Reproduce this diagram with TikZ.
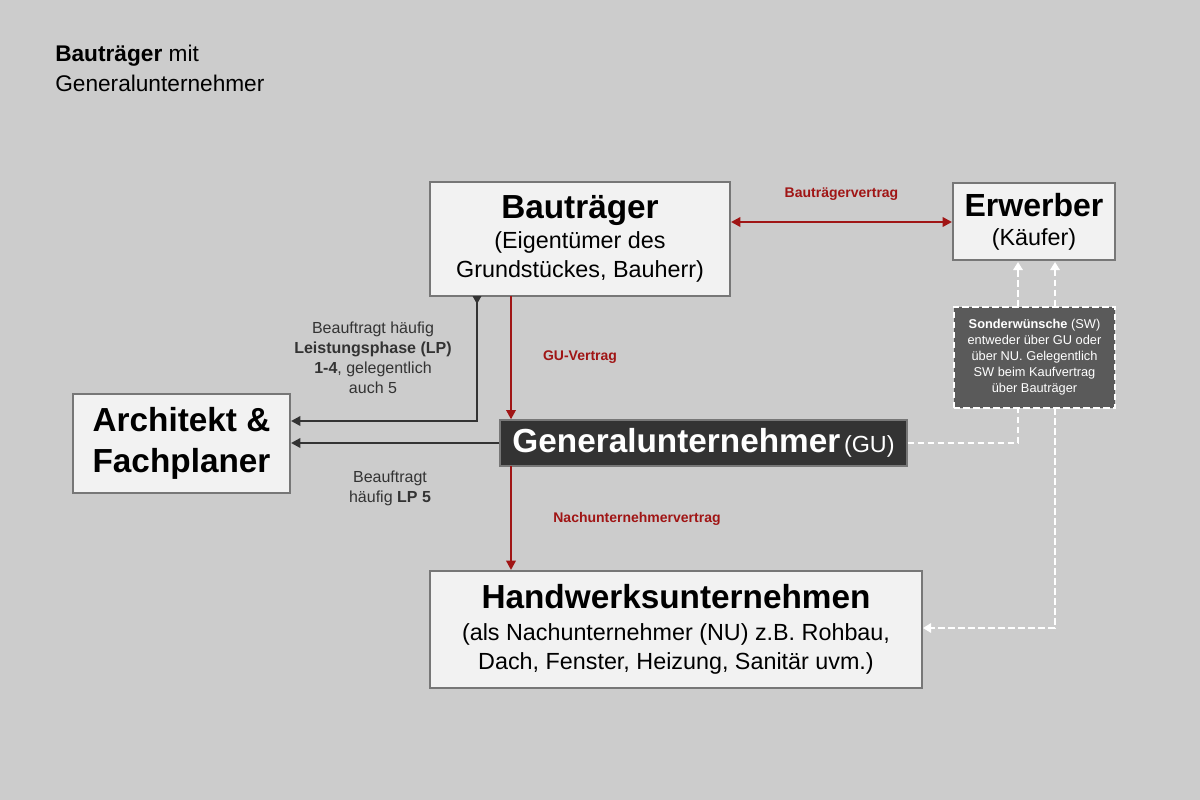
\documentclass[tikz,border=0pt]{standalone}
\usepackage{fontspec}
\setmainfont{Liberation Sans}
\usetikzlibrary{arrows.meta,calc}
\definecolor{bg}{HTML}{CCCCCC}
\definecolor{boxf}{HTML}{F2F2F2}
\definecolor{boxd}{HTML}{777777}
\definecolor{red1}{HTML}{A01515}
\definecolor{dark}{HTML}{333333}
\definecolor{swf}{HTML}{5A5A5A}
\newcommand{\fs}[1]{\pgfmathsetlengthmacro\fsbase{1.25*#1}\fontsize{#1}{\fsbase}\selectfont}
\tikzset{
  box/.style={draw=boxd,line width=1.5pt,fill=boxf,inner sep=0pt,align=center},
  redarr/.style={red1,line width=2pt,-{Triangle[length=7pt,width=7pt]}},
  blkarr/.style={dark,line width=2pt,-{Triangle[length=7pt,width=7pt]}},
  wdash/.style={white,line width=1.5pt,dash pattern=on 5pt off 2.5pt},
  lbl/.style={align=center,text=dark,font=\fs{12}},
  rlbl/.style={text=red1,font=\fs{10.5}\bfseries},
}
\begin{document}
\begin{tikzpicture}[x=0.75pt,y=-0.75pt]
\fill[bg] (0,0) rectangle (1200,800);
\useasboundingbox (0,0) rectangle (1200,800);
\node[anchor=north west,align=left,font=\fs{17},inner sep=0pt] (title) at (55,45) {\textbf{Bauträger} mit\\[1pt]Generalunternehmer};
\node[box,font=\fs{17.5},minimum width=300*0.75pt,minimum height=114*0.75pt] (bt) at (580,239) {{\fs{25}\bfseries Bauträger}\\(Eigentümer des\\Grundstückes, Bauherr)};
\node[box,font=\fs{17.5},minimum width=162*0.75pt,minimum height=77*0.75pt] (er) at (1034,221.5) {{\fs{24}\bfseries Erwerber}\\(Käufer)};
\node[box,font=\fs{25}\bfseries,minimum width=217*0.75pt,minimum height=99*0.75pt] (ar) at (181.5,443.5) {Architekt \&\\Fachplaner};
\node[draw=boxd,line width=1pt,fill=dark,text=white,minimum width=407*0.75pt,minimum height=46*0.75pt,inner sep=0pt] (gu) at (703.5,443) {{\fs{25}\bfseries Generalunternehmer} {\fs{17.5}(GU)}};
\node[box,font=\fs{17.5},minimum width=492*0.75pt,minimum height=117*0.75pt] (hw) at (676,629.5) {{\fs{25}\bfseries Handwerksunternehmen}\\[2pt](als Nachunternehmer (NU) z.B. Rohbau,\\Dach, Fenster, Heizung, Sanitär uvm.)};
\node[fill=swf,text=white,minimum width=161*0.75pt,minimum height=101*0.75pt,inner sep=0pt,align=center,font=\fs{9.6}] (sw) at (1034.5,357.5) {\textbf{Sonderwünsche} (SW)\\entweder über GU oder\\über NU. Gelegentlich\\SW beim Kaufvertrag\\über Bauträger};
\draw[wdash] (sw.south west) rectangle (sw.north east);
% red
\draw[red1,line width=2pt,{Triangle[length=7pt,width=7pt]}-{Triangle[length=7pt,width=7pt]}] (bt.east|-0,222) -- (er.west|-0,222) node[midway,above=12pt,rlbl] (l1) {Bauträgervertrag};
\draw[redarr] (511,296) coordinate (a1) -- (a1|-gu.north) ;
\node[rlbl] (l2) at (580,357) {GU-Vertrag};
\draw[redarr] (511,466) coordinate (a2) -- (a2|-hw.north);
\node[rlbl] (l3) at (637,519) {Nachunternehmervertrag};
% black
\coordinate (b1) at (477,296);
\fill[dark] ($(b1)+(-4.5,0)$) -- ($(b1)+(4.5,0)$) -- ($(b1)+(0,8)$) -- cycle;
\draw[blkarr] (b1) -- (477,421) -- (ar.east|-0,421);
\draw[blkarr] (gu.west) -- (ar.east|-gu.west);
\node[lbl] (l4) at (373,358) {Beauftragt häufig\\\textbf{Leistungsphase (LP)}\\\textbf{1-4}, gelegentlich\\auch 5};
\node[lbl] (l5) at (390,488) {Beauftragt\\häufig \textbf{LP 5}};
% white dashed
\draw[wdash] (gu.east) -- (1018,443) -- (1018,408);
\draw[wdash,-{Triangle[length=6pt,width=7pt]}] (1018,307) -- (1018,262);
\draw[wdash,{Triangle[length=6pt,width=7pt]}-] (1055,262) -- (1055,307);
\draw[wdash,-{Triangle[length=6pt,width=7pt]}] (1055,408) -- (1055,628) -- (hw.east|-0,628);
\end{tikzpicture}
\end{document}
